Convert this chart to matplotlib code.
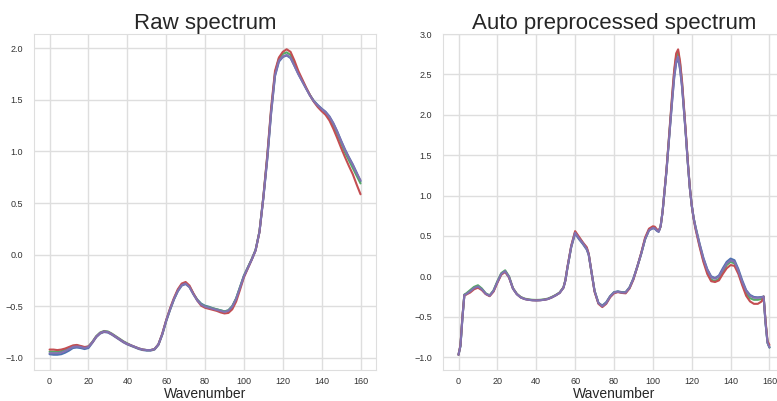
#!/usr/bin/env python3
import matplotlib
matplotlib.use('Agg')
import matplotlib.pyplot as plt
import seaborn as sns

# raw spectra, sampled every 2 wavenumbers (0..160)
raw_wavenumber = list(range(0, 161, 2))

raw_blue = [
    -0.965, -0.97, -0.97, -0.965, -0.95, -0.93, -0.905, -0.90, -0.905, -0.915,
    -0.905, -0.855, -0.80, -0.765, -0.75, -0.755, -0.775, -0.80, -0.825, -0.85,
    -0.87, -0.885, -0.90, -0.915, -0.925, -0.93, -0.93, -0.92, -0.875, -0.775,
    -0.645, -0.535, -0.435, -0.355, -0.30, -0.285, -0.315, -0.38, -0.435, -0.475,
    -0.495, -0.505, -0.52, -0.53, -0.54, -0.55, -0.54, -0.50, -0.425, -0.315,
    -0.205, -0.125, -0.045, 0.045, 0.22, 0.545, 0.92, 1.37, 1.73, 1.87,
    1.915, 1.93, 1.905, 1.83, 1.75, 1.68, 1.61, 1.545, 1.49, 1.45,
    1.415, 1.385, 1.34, 1.275, 1.195, 1.105, 1.02, 0.945, 0.875, 0.795,
    0.71,
]
raw_green = [
    -0.94, -0.94, -0.94, -0.935, -0.92, -0.905, -0.885, -0.88, -0.89, -0.90,
    -0.89, -0.845, -0.79, -0.755, -0.74, -0.745, -0.765, -0.79, -0.815, -0.84,
    -0.86, -0.88, -0.895, -0.91, -0.92, -0.925, -0.925, -0.915, -0.87, -0.77,
    -0.64, -0.53, -0.43, -0.345, -0.29, -0.275, -0.31, -0.38, -0.44, -0.48,
    -0.50, -0.51, -0.52, -0.53, -0.54, -0.55, -0.54, -0.50, -0.425, -0.315,
    -0.205, -0.125, -0.045, 0.045, 0.225, 0.56, 0.95, 1.40, 1.76, 1.90,
    1.945, 1.96, 1.935, 1.85, 1.765, 1.69, 1.615, 1.545, 1.485, 1.44,
    1.405, 1.37, 1.32, 1.25, 1.17, 1.08, 0.99, 0.915, 0.84, 0.765,
    0.69,
]
raw_red = [
    -0.92, -0.92, -0.925, -0.92, -0.91, -0.895, -0.88, -0.875, -0.885, -0.895,
    -0.89, -0.85, -0.795, -0.76, -0.745, -0.75, -0.77, -0.795, -0.82, -0.845,
    -0.865, -0.88, -0.895, -0.91, -0.92, -0.925, -0.925, -0.915, -0.87, -0.765,
    -0.635, -0.52, -0.42, -0.335, -0.28, -0.265, -0.30, -0.375, -0.445, -0.495,
    -0.515, -0.525, -0.535, -0.545, -0.56, -0.57, -0.565, -0.53, -0.455, -0.34,
    -0.22, -0.135, -0.05, 0.04, 0.22, 0.56, 0.96, 1.42, 1.78, 1.91,
    1.965, 1.99, 1.965, 1.88, 1.78, 1.70, 1.62, 1.545, 1.48, 1.43,
    1.39, 1.355, 1.30, 1.22, 1.13, 1.035, 0.945, 0.86, 0.78, 0.68,
    0.585,
]
raw_purple = [
    -0.955, -0.955, -0.955, -0.95, -0.935, -0.915, -0.895, -0.89, -0.895, -0.905,
    -0.895, -0.85, -0.795, -0.76, -0.745, -0.75, -0.77, -0.795, -0.82, -0.845,
    -0.865, -0.88, -0.895, -0.91, -0.92, -0.925, -0.925, -0.915, -0.87, -0.77,
    -0.64, -0.53, -0.43, -0.35, -0.295, -0.28, -0.315, -0.385, -0.445, -0.485,
    -0.505, -0.515, -0.525, -0.535, -0.545, -0.555, -0.545, -0.505, -0.43, -0.32,
    -0.21, -0.13, -0.05, 0.04, 0.22, 0.55, 0.93, 1.38, 1.74, 1.88,
    1.92, 1.935, 1.91, 1.83, 1.75, 1.68, 1.61, 1.54, 1.485, 1.445,
    1.41, 1.38, 1.335, 1.27, 1.19, 1.10, 1.015, 0.94, 0.87, 0.79,
    0.72,
]

# preprocessed spectra, denser sampling around the sharp features
pre_wavenumber = [
    0, 1, 2, 3, 4, 6, 8, 10, 12, 14,
    16, 18, 20, 22, 24, 26, 28, 30, 32, 34,
    36, 38, 40, 42, 44, 46, 48, 50, 52, 54,
    55, 56, 58, 60, 62, 64, 66, 67, 68, 70,
    72, 74, 76, 78, 80, 82, 84, 86, 88, 90,
    92, 94, 96, 98, 100, 101, 102, 103, 104, 105,
    106, 107, 108, 109, 110, 111, 112, 113, 114, 115,
    116, 117, 118, 119, 120, 121, 122, 124, 126, 128,
    130, 132, 134, 136, 138, 140, 142, 144, 146, 148,
    150, 152, 154, 156, 157, 158, 159, 160,
]
pre_blue = [
    -0.97, -0.86, -0.52, -0.23, -0.22, -0.185, -0.145, -0.125, -0.16, -0.215,
    -0.24, -0.18, -0.07, 0.03, 0.06, -0.01, -0.15, -0.22, -0.26, -0.28,
    -0.29, -0.295, -0.297, -0.295, -0.29, -0.28, -0.26, -0.235, -0.205, -0.14,
    -0.05, 0.10, 0.36, 0.53, 0.46, 0.40, 0.33, 0.265, 0.115, -0.18,
    -0.33, -0.36, -0.32, -0.245, -0.195, -0.185, -0.195, -0.195, -0.135, -0.025,
    0.12, 0.28, 0.46, 0.57, 0.595, 0.59, 0.565, 0.55, 0.62, 0.80,
    1.05, 1.30, 1.60, 1.90, 2.19, 2.46, 2.64, 2.70, 2.56, 2.35,
    2.05, 1.74, 1.40, 1.10, 0.88, 0.72, 0.61, 0.41, 0.23, 0.09,
    0.0, -0.02, 0.01, 0.10, 0.18, 0.22, 0.20, 0.09, -0.05, -0.17,
    -0.23, -0.255, -0.26, -0.255, -0.25, -0.58, -0.82, -0.88,
]
pre_green = [
    -0.97, -0.86, -0.51, -0.225, -0.21, -0.17, -0.13, -0.11, -0.15, -0.21,
    -0.235, -0.175, -0.06, 0.04, 0.075, 0.0, -0.145, -0.215, -0.255, -0.275,
    -0.285, -0.29, -0.292, -0.29, -0.285, -0.275, -0.255, -0.23, -0.20, -0.135,
    -0.045, 0.10, 0.37, 0.55, 0.48, 0.415, 0.345, 0.275, 0.12, -0.18,
    -0.33, -0.37, -0.33, -0.25, -0.20, -0.19, -0.20, -0.20, -0.14, -0.03,
    0.12, 0.28, 0.46, 0.575, 0.605, 0.60, 0.575, 0.56, 0.62, 0.80,
    1.05, 1.31, 1.62, 1.93, 2.24, 2.53, 2.72, 2.78, 2.63, 2.40,
    2.08, 1.75, 1.41, 1.10, 0.88, 0.72, 0.60, 0.39, 0.20, 0.06,
    -0.04, -0.06, -0.03, 0.06, 0.14, 0.18, 0.16, 0.06, -0.09, -0.21,
    -0.27, -0.29, -0.29, -0.28, -0.25, -0.57, -0.82, -0.88,
]
pre_red = [
    -0.97, -0.85, -0.50, -0.235, -0.225, -0.20, -0.16, -0.14, -0.17, -0.22,
    -0.245, -0.19, -0.08, 0.02, 0.055, -0.015, -0.15, -0.22, -0.26, -0.28,
    -0.29, -0.295, -0.297, -0.295, -0.29, -0.28, -0.26, -0.235, -0.205, -0.14,
    -0.05, 0.11, 0.38, 0.56, 0.49, 0.42, 0.36, 0.28, 0.12, -0.19,
    -0.34, -0.38, -0.34, -0.26, -0.21, -0.195, -0.205, -0.21, -0.15, -0.04,
    0.12, 0.29, 0.48, 0.59, 0.62, 0.615, 0.585, 0.56, 0.62, 0.80,
    1.06, 1.32, 1.63, 1.95, 2.27, 2.56, 2.76, 2.81, 2.66, 2.42,
    2.10, 1.77, 1.42, 1.11, 0.88, 0.71, 0.58, 0.37, 0.18, 0.03,
    -0.06, -0.07, -0.05, 0.03, 0.10, 0.14, 0.13, 0.03, -0.11, -0.24,
    -0.31, -0.34, -0.34, -0.31, -0.25, -0.55, -0.80, -0.85,
]
pre_purple = [
    -0.97, -0.86, -0.52, -0.23, -0.22, -0.185, -0.145, -0.125, -0.16, -0.215,
    -0.24, -0.18, -0.07, 0.03, 0.065, -0.01, -0.15, -0.22, -0.26, -0.28,
    -0.29, -0.295, -0.297, -0.295, -0.29, -0.28, -0.26, -0.235, -0.205, -0.14,
    -0.05, 0.10, 0.37, 0.54, 0.47, 0.41, 0.34, 0.27, 0.12, -0.18,
    -0.33, -0.37, -0.33, -0.25, -0.20, -0.19, -0.20, -0.20, -0.14, -0.03,
    0.12, 0.28, 0.46, 0.57, 0.60, 0.595, 0.57, 0.555, 0.62, 0.80,
    1.05, 1.30, 1.60, 1.90, 2.20, 2.48, 2.66, 2.72, 2.58, 2.36,
    2.06, 1.74, 1.40, 1.10, 0.88, 0.72, 0.60, 0.40, 0.22, 0.08,
    -0.01, -0.03, 0.0, 0.08, 0.16, 0.20, 0.18, 0.07, -0.07, -0.18,
    -0.24, -0.265, -0.265, -0.26, -0.25, -0.58, -0.82, -0.88,
]

line_colors = ['#4C72B0', '#55A868', '#C44E52', '#8172B2']


def draw_panel(ax, x, series, title):
    for y, c in zip(series, line_colors):
        ax.plot(x, y, color=c, lw=1.5)
    ax.set_title(title, fontsize=16, pad=3.5, color='#262626')
    ax.set_xlabel('Wavenumber', fontsize=10, color='#262626')
    # sit the label right under the tick labels, baseline near the bottom edge
    ax.xaxis.set_label_coords(0.5, -0.0835)
    ax.xaxis.label.set_verticalalignment('baseline')
    ax.set_xticks(range(0, 161, 20))
    ax.tick_params(labelsize=6.5, pad=1.5, labelcolor='#333333')
    ax.grid(color='#dedede', lw=1.0)
    for s in ax.spines.values():
        s.set_color('#dedede')


def main():
    sns.set_style('whitegrid')
    plt.rcParams['font.family'] = ['Liberation Sans', 'DejaVu Sans']

    fig = plt.figure(figsize=(7.77, 4.01), dpi=100)
    ax1 = fig.add_axes([0.0438, 0.0773, 0.4402, 0.8379])
    ax2 = fig.add_axes([0.5701, 0.0773, 0.4402, 0.8379])

    draw_panel(ax1, raw_wavenumber,
               [raw_blue, raw_green, raw_red, raw_purple], 'Raw spectrum')
    draw_panel(ax2, pre_wavenumber,
               [pre_blue, pre_green, pre_red, pre_purple],
               'Auto preprocessed spectrum')
    ax1.set_yticks([-1.0, -0.5, 0.0, 0.5, 1.0, 1.5, 2.0])
    ax2.set_yticks([-1.0, -0.5, 0.0, 0.5, 1.0, 1.5, 2.0, 2.5, 3.0])
    # y tick labels sit a little further from the frame than the x ones
    ax1.tick_params(axis='y', pad=4.5)
    ax2.tick_params(axis='y', pad=4.5)

    fig.savefig('out.png', dpi=100)
    plt.close(fig)


if __name__ == '__main__':
    main()
